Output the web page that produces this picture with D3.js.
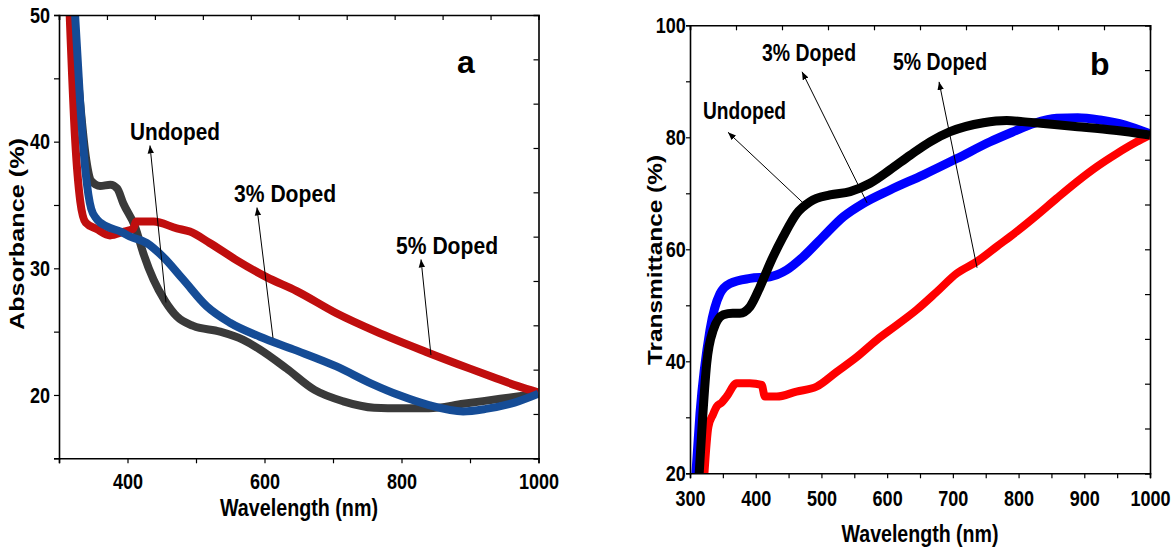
<!DOCTYPE html>
<meta charset="utf-8" />
<script src="https://d3js.org/d3.v7.min.js"></script>
<style>
  body { margin: 0; background: #fff; }
  .bold { font-family: "Liberation Sans", Arial, sans-serif; font-weight: bold; }
</style>
<body>
  <div id="chart"></div>
</body>
<script>
  // ---- panel a : absorbance ----
  var wlAUndoped = [321, 331, 340, 347, 360, 375, 385, 394, 411, 423, 438, 455, 472, 496, 535, 569, 593, 632, 673, 715, 760, 800, 840, 890, 944, 1000];
  var absAUndoped = [50, 43, 38.5, 36.9, 36.5, 36.6, 36.3, 35.1, 33.3, 31.2, 29.1, 27.4, 26.2, 25.45, 25.0, 24.35, 23.6, 22.1, 20.4, 19.5, 19.0, 18.95, 18.95, 19.3, 19.7, 20.1];
  var wlA3 = [323.5, 331, 339, 347, 355, 370, 390, 404, 428, 452, 481.5, 515.6, 549.6, 593.4, 642, 705, 756, 798, 840, 890, 923, 965, 1000];
  var absA3 = [50, 43, 37.5, 34.7, 33.9, 33.3, 32.9, 32.5, 32.0, 30.9, 29.1, 27.0, 25.7, 24.6, 23.6, 22.25, 20.9, 19.95, 19.2, 18.7, 18.9, 19.4, 20.1];
  var wlA5 = [315.6, 323.5, 331, 339, 355, 374.5, 395, 408, 413, 438, 472, 491, 520, 559, 603, 647, 705, 763, 836, 899, 934, 970, 1000];
  var absA5 = [50, 40.2, 35.3, 33.6, 33.1, 32.6, 32.9, 33.1, 33.7, 33.7, 33.15, 32.9, 32.0, 30.65, 29.3, 28.2, 26.45, 25.0, 23.4, 22.1, 21.4, 20.7, 20.2];

  // ---- panel b : transmittance ----
  var wlBUndoped = [314, 318, 325.4, 335.5, 350.7, 365, 376, 391.3, 406.6, 421.8, 442, 462.4, 482.7, 513, 543.6, 574, 604.4, 635, 665.3, 695.8, 746.5, 782, 806, 834, 890, 946, 1000];
  var trBUndoped = [20, 27.7, 39.6, 45.6, 48.3, 48.6, 48.6, 49.75, 53.3, 57.5, 62.3, 66.4, 68.5, 69.7, 70.3, 71.8, 74.2, 76.8, 79.2, 81.0, 82.6, 83.0, 82.8, 82.5, 81.9, 81.25, 80.4];
  var wlB3 = [309, 315.2, 330.4, 345.7, 360.9, 391.3, 421.8, 447, 472.5, 503, 533.4, 563.8, 604.4, 655.2, 706, 756.7, 790, 824, 858, 890, 924, 962, 1000];
  var trB3 = [20, 30.7, 45.6, 52.1, 53.9, 54.8, 55.1, 56.3, 58.7, 62.3, 65.8, 68.2, 70.6, 73.3, 76.2, 79.2, 80.9, 82.5, 83.4, 83.5, 83.1, 82.2, 80.6];
  var wlB5 = [322, 328, 335, 340.6, 348, 355.8, 371, 391, 409, 414, 432, 462, 493, 523, 554, 584, 615, 645, 675.5, 706, 736.4, 767, 797, 828, 858, 889, 919, 949.5, 980, 1000];
  var trB5 = [20, 28.3, 30.5, 31.9, 32.6, 33.7, 36.1, 36.1, 35.8, 33.7, 33.7, 34.6, 35.5, 38.1, 40.8, 43.8, 46.5, 49.2, 52.4, 55.7, 57.8, 60.5, 63.15, 66.1, 69.1, 72.1, 74.75, 77.1, 79.2, 80.4];

  // annotation labels, their positions (data units) and arrows tail -> head
  var labelsA = ["Undoped", "3% Doped", "5% Doped"];
  var labelPosA = [[403.6, 40.1], [555.5, 35.25], [792, 31.1]];
  var arrowsA = [[[456.2, 27.3], [432.8, 39.7]], [[612.4, 24.5], [589, 34.8]], [[843, 23.15], [828.5, 30.7]]];
  var labelsB = ["Undoped", "3% Doped", "5% Doped"];
  var labelPosB = [[319.8, 83.2], [409.6, 93.7], [609, 92.0]];
  var arrowsB = [[[472, 68.3], [357.8, 80.9]], [[569.4, 68.3], [470.5, 91.7]], [[736.8, 56.7], [679, 89.9]]];

  var NARROW = 0.82; // no condensed face installed, squeeze the bold one

  var svg = d3.select("#chart").append("svg").attr("width", 1176).attr("height", 547);

  // arrow head
  svg.append("defs").append("marker")
    .attr("id", "head").attr("viewBox", "0 0 10 10")
    .attr("refX", 10).attr("refY", 5)
    .attr("markerWidth", 8).attr("markerHeight", 8)
    .attr("markerUnits", "userSpaceOnUse")
    .attr("orient", "auto")
    .append("path").attr("d", "M0,1 L10,5 L0,9 Z").attr("fill", "#000");

  function zip(xs, ys) {
    return xs.map(function (d, i) { return [d, ys[i]]; });
  }

  function panel(opt) {
    var x = d3.scaleLinear().domain([300, 1000]).range(opt.xr);
    var y = d3.scaleLinear().domain(opt.yd).range(opt.yr);
    var g = svg.append("g");

    g.append("clipPath").attr("id", opt.id + "clip")
      .append("rect").attr("x", opt.xr[0]).attr("y", opt.yr[1])
      .attr("width", opt.xr[1] - opt.xr[0]).attr("height", opt.yr[0] - opt.yr[1]);

    var line = d3.line()
      .x(function (d) { return x(d[0]); })
      .y(function (d) { return y(d[1]); })
      .curve(d3.curveMonotoneX);

    var lines = g.append("g").attr("clip-path", "url(#" + opt.id + "clip)");
    opt.series.forEach(function (s) {
      lines.append("path")
        .attr("d", line(zip(s.x, s.y)))
        .attr("fill", "none")
        .attr("stroke", s.color)
        .attr("stroke-width", s.w)
        .attr("stroke-linejoin", "round");
    });

    // axes
    var bottom = g.append("g").attr("transform", "translate(0," + opt.yr[0] + ")")
      .call(d3.axisBottom(x).tickValues(opt.xTicks).tickSize(5).tickPadding(opt.xPad)
        .tickFormat(function (d) { return opt.xLabels.indexOf(d) >= 0 ? d : ""; }));
    var left = g.append("g").attr("transform", "translate(" + opt.xr[0] + ",0)")
      .call(d3.axisLeft(y).tickValues(opt.yTicks).tickSize(opt.yTick).tickPadding(opt.yPad)
        .tickFormat(function (d) { return opt.yLabels.indexOf(d) >= 0 ? d : ""; }));
    var top = g.append("g").attr("transform", "translate(0," + opt.yr[1] + ")")
      .call(d3.axisTop(x).tickValues(d3.range(300, 1001, 70)).tickSize(-5).tickFormat(""));
    var right = g.append("g").attr("transform", "translate(" + opt.xr[1] + ",0)")
      .call(d3.axisRight(y).tickValues(opt.rTicks).tickSize(-5).tickFormat(""));

    [bottom, left, top, right].forEach(function (a) {
      a.select(".domain").attr("stroke", "#000").attr("stroke-width", 1.6);
      a.selectAll(".tick line").attr("stroke", "#000").attr("stroke-width", 1.2);
      a.selectAll("text").attr("class", "bold").attr("font-size", 22).attr("fill", "#000")
        .attr("transform", "scale(" + NARROW + ",1)");
    });

    // axis titles
    g.append("text").attr("class", "bold")
      .attr("x", opt.xTitle[0]).attr("y", opt.xTitle[1])
      .attr("text-anchor", "middle").attr("font-size", 23)
      .attr("textLength", opt.xTitle[2]).attr("lengthAdjust", "spacingAndGlyphs")
      .text("Wavelength (nm)");
    g.append("text").attr("class", "bold")
      .attr("transform", "translate(" + opt.yTitle[0] + "," + opt.yTitle[1] + ") rotate(-90)")
      .attr("text-anchor", "middle").attr("font-size", 20)
      .attr("textLength", opt.yTitle[2]).attr("lengthAdjust", "spacingAndGlyphs")
      .text(opt.yName);

    // panel letter
    g.append("text").attr("class", "bold")
      .attr("x", x(opt.letterPos[0])).attr("y", y(opt.letterPos[1]))
      .attr("font-size", 32).text(opt.letter);

    // annotations
    opt.labels.forEach(function (t, i) {
      g.append("text").attr("class", "bold")
        .attr("x", x(opt.labelPos[i][0])).attr("y", y(opt.labelPos[i][1]))
        .attr("font-size", opt.labelSize)
        .attr("textLength", opt.labelLen[i]).attr("lengthAdjust", "spacingAndGlyphs")
        .text(t);
      var a = opt.arrows[i];
      g.append("line")
        .attr("x1", x(a[0][0])).attr("y1", y(a[0][1]))
        .attr("x2", x(a[1][0])).attr("y2", y(a[1][1]))
        .attr("stroke", "#000").attr("stroke-width", 1)
        .attr("marker-end", "url(#head)");
    });
  }

  panel({
    id: "a",
    xr: [59, 538.5], yd: [15, 50], yr: [458.3, 15],
    series: [
      { x: wlAUndoped, y: absAUndoped, color: "#3a3a3a", w: 8 },
      { x: wlA5, y: absA5, color: "#c00e0e", w: 8 },
      { x: wlA3, y: absA3, color: "#154c96", w: 8 }
    ],
    xTicks: d3.range(300, 1001, 100), xLabels: [400, 600, 800, 1000], xPad: 10,
    yTicks: d3.range(15, 51, 5), yLabels: [20, 30, 40, 50], yTick: 5, yPad: 6,
    rTicks: d3.range(15, 50, 3.5),
    xTitle: [299, 516, 158], yTitle: [24, 234, 192], yName: "Absorbance (%)",
    letter: "a", letterPos: [881, 45.4],
    labels: labelsA, labelPos: labelPosA, arrows: arrowsA, labelSize: 24, labelLen: [90, 102, 102]
  });

  panel({
    id: "b",
    xr: [690, 1150], yd: [20, 100], yr: [473.3, 25.3],
    series: [
      { x: wlB5, y: trB5, color: "#ff0000", w: 8 },
      { x: wlB3, y: trB3, color: "#0000ff", w: 9 },
      { x: wlBUndoped, y: trBUndoped, color: "#000000", w: 9 }
    ],
    xTicks: d3.range(300, 1001, 50), xLabels: [300, 400, 500, 600, 700, 800, 900, 1000], xPad: 12,
    yTicks: d3.range(20, 101, 10), yLabels: [20, 40, 60, 80, 100], yTick: 4, yPad: 1,
    rTicks: d3.range(20, 101, 8),
    xTitle: [920, 542, 157], yTitle: [662, 260, 210], yName: "Transmittance (%)",
    letter: "b", letterPos: [908.8, 91.1],
    labels: labelsB, labelPos: labelPosB, arrows: arrowsB, labelSize: 23, labelLen: [83, 94, 94]
  });
</script>
